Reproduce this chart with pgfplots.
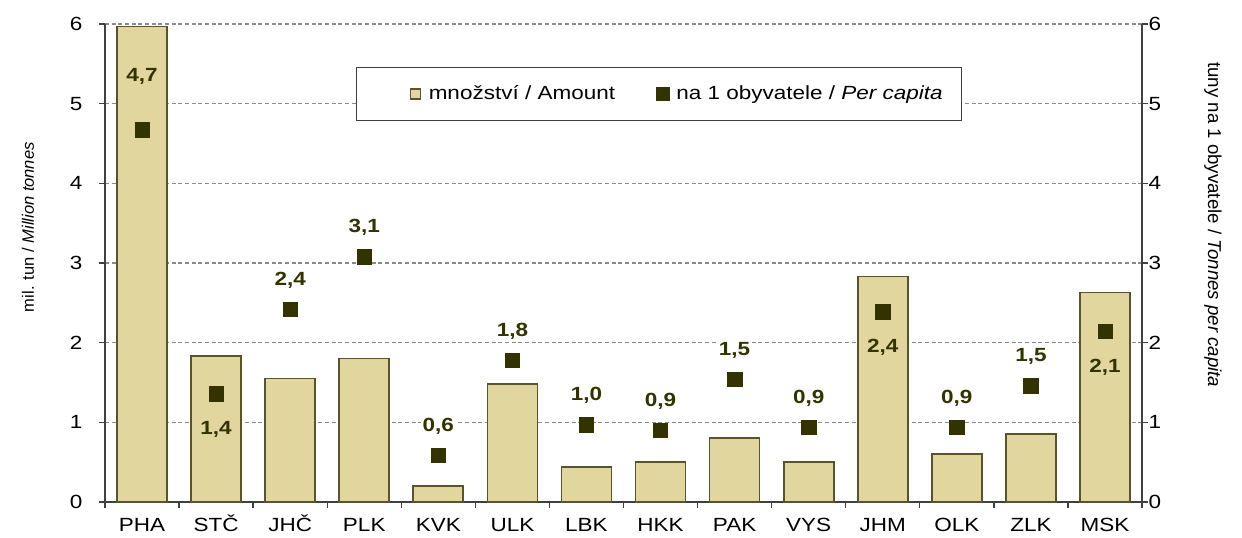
\documentclass[border=0pt]{standalone}
\usepackage{pgfplots}
\pgfplotsset{compat=1.18}
\usepackage{fontspec}
\setmainfont{Liberation Sans}
\newfontfamily\widefont{Liberation Sans}[FakeStretch=1.18]
\definecolor{barfill}{HTML}{E2D69F}
\definecolor{baredge}{HTML}{58542C}
\definecolor{darkolive}{HTML}{333300}
\definecolor{axgray}{HTML}{404040}
\definecolor{gridgray}{HTML}{8A8A8A}

\newcommand{\chartfont}{\widefont\fontsize{14.3}{17}\selectfont}
\newcommand{\titlefont}{\fontsize{12.4}{14}\selectfont}

\begin{document}
\begin{tikzpicture}
\pgfplotsset{
  base/.style={
    width=777.75pt, height=358.5pt, scale only axis,
    xmin=-0.5, xmax=13.5, ymin=0, ymax=6,
    ytick={0,1,2,3,4,5,6},
    tick label style={font=\chartfont},
    /pgf/number format/assume math mode=true,
    axis line style={axgray, line width=1.1pt},
    major tick length=4.5pt,
    tick style={axgray, line width=1pt},
    tick align=outside,
    label style={font=\titlefont},
  }
}
\useasboundingbox (-78.75pt,-26.25pt) rectangle (852.75pt,376.5pt);
\begin{axis}[base,
  axis x line*=bottom, axis y line*=left,
  xtick={-0.5,0.5,1.5,2.5,3.5,4.5,5.5,6.5,7.5,8.5,9.5,10.5,11.5,12.5,13.5},
  x tick label as interval,
  xticklabels={PHA,STČ,JHČ,PLK,KVK,ULK,LBK,HKK,PAK,VYS,JHM,OLK,ZLK,MSK},
  xticklabel style={yshift=-3.5pt, text height=13pt, text depth=0pt, inner sep=1pt},
  yticklabel style={xshift=-9pt},
  ymajorgrids,
  grid style={gridgray, dash pattern=on 3pt off 2pt, line width=0.8pt},
  ylabel={mil. tun / \textit{Million tonnes}},
  ylabel style={at={(axis description cs:-0.0743,0.575)}, anchor=center},
  legend columns=2,
  legend style={at={(axis description cs:0.2418,0.9107)}, anchor=north west,
    draw=axgray, line width=0.9pt, font=\chartfont,
    inner xsep=12pt, inner ysep=12pt,
    /tikz/every even column/.append style={column sep=29pt}},
]
\addplot[ybar, bar width=37.5pt, fill=barfill, draw=baredge, line width=1.3pt,
  legend image code/.code={\path (-28pt,0pt) (11pt,0pt);
    \draw[fill=barfill,draw=baredge,line width=0.8pt] (0pt,-3.75pt) rectangle (7.5pt,3.75pt);}]
  coordinates {(0,5.97) (1,1.83) (2,1.55) (3,1.80) (4,0.20) (5,1.48) (6,0.44)
               (7,0.50) (8,0.80) (9,0.50) (10,2.83) (11,0.60) (12,0.85) (13,2.63)};
\addlegendentry{množství / Amount}
\addplot[only marks, mark=square*, mark size=5.4pt, color=darkolive,
  legend image code/.code={\path (12pt,0pt);
    \fill[darkolive] (0pt,-4.5pt) rectangle (9pt,4.5pt);}]
  coordinates {(0,4.67) (1,1.36) (2,2.42) (3,3.08) (4,0.59) (5,1.78) (6,0.97)
               (7,0.90) (8,1.54) (9,0.94) (10,2.39) (11,0.94) (12,1.46) (13,2.14)};
\addlegendentry{na 1 obyvatele / \textit{Per capita}}
% labels above the markers
\addplot[draw=none, mark=none, forget plot, nodes near coords, point meta=explicit symbolic,
  nodes near coords style={anchor=center, yshift=21.75pt, fill=white, inner sep=1.5pt,
    font=\chartfont\bfseries, text=darkolive}]
  coordinates {(2,2.42)[2,4] (3,3.08)[3,1] (4,0.59)[0,6] (5,1.78)[1,8] (6,0.97)[1,0]
               (7,0.90)[0,9] (8,1.54)[1,5] (9,0.94)[0,9] (11,0.94)[0,9] (12,1.46)[1,5]};
% labels below the markers, inside the bars
\addplot[draw=none, mark=none, forget plot, nodes near coords, point meta=explicit symbolic,
  nodes near coords style={anchor=center, yshift=-27pt, inner sep=1.5pt,
    font=\chartfont\bfseries, text=darkolive}]
  coordinates {(1,1.36)[1,4] (10,2.39)[2,4] (13,2.14)[2,1]};
% Prague label
\addplot[draw=none, mark=none, forget plot, nodes near coords, point meta=explicit symbolic,
  nodes near coords style={anchor=center, yshift=40.5pt, inner sep=1.5pt,
    font=\chartfont\bfseries, text=darkolive}]
  coordinates {(0,4.67)[4,7]};
\end{axis}
\begin{axis}[base,
  axis y line*=right, axis x line=none,
  yticklabel style={xshift=-3pt},
  ylabel={tuny na 1 obyvatele / \textit{Tonnes per capita}},
  ylabel style={at={(axis description cs:1.0685,0.58)}, anchor=center, rotate=180,
    font=\fontsize{14}{16}\selectfont},
]
\end{axis}
\end{tikzpicture}
\end{document}
